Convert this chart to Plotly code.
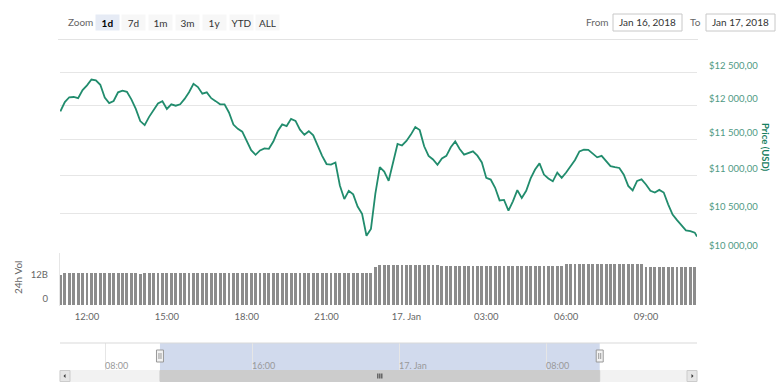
import math
import pandas as pd
import plotly.graph_objects as go

W, H = 780, 387

# ---------------- data ----------------
price_times = list(pd.date_range("2018-01-16 11:00", periods=144, freq="10min")) + [pd.Timestamp("2018-01-17 10:55")]
price_usd = [
    11910, 12048, 12120, 12124, 12106, 12229, 12300, 12389, 12376, 12308,
    12117, 12033, 12064, 12194, 12220, 12202, 12089, 11946, 11768, 11709,
    11830, 11938, 12027, 12061, 11946, 12015, 11994, 12015, 12095, 12195,
    12323, 12273, 12174, 12194, 12106, 12062, 12015, 12015, 11894, 11718,
    11656, 11615, 11485, 11351, 11287, 11348, 11378, 11371, 11474, 11624,
    11720, 11696, 11801, 11770, 11644, 11570, 11622, 11563, 11415, 11273,
    11159, 11151, 11180, 10868, 10686, 10796, 10748, 10587, 10493, 10212,
    10298, 10759, 11116, 11055, 10930, 11205, 11439, 11418, 11483, 11573,
    11683, 11637, 11407, 11272, 11222, 11148, 11236, 11272, 11393, 11476,
    11368, 11289, 11318, 11336, 11275, 11182, 10969, 10947, 10836, 10668,
    10674, 10535, 10656, 10805, 10701, 10796, 10962, 11084, 11168, 11015,
    10961, 10923, 11041, 10969, 11042, 11127, 11215, 11335, 11358, 11357,
    11308, 11252, 11273, 11194, 11130, 11116, 11105, 11013, 10861, 10800,
    10929, 10949, 10881, 10797, 10773, 10808, 10773, 10616, 10484, 10411,
    10341, 10279, 10270, 10251, 10203,
]

vol_times = pd.date_range("2018-01-16 11:00", periods=144, freq="10min")
vol_bn = [
    15.0, 16.0, 16.0, 16.0, 16.0, 16.25, 16.25, 16.25, 16.25, 16.25,
    16.25, 16.25, 16.25, 16.25, 16.25, 16.25, 16.25, 16.25, 15.5, 16.0,
    16.0, 16.0, 16.0, 16.0, 16.0, 16.0, 16.0, 16.0, 16.0, 16.0,
    16.1, 16.1, 16.1, 16.1, 16.1, 16.1, 16.1, 16.1, 16.1, 16.1,
    16.1, 16.1, 16.1, 16.1, 16.1, 16.1, 16.1, 16.1, 16.1, 16.1,
    16.1, 16.1, 16.1, 16.1, 16.1, 16.1, 16.1, 16.1, 16.1, 16.1,
    16.1, 16.1, 16.1, 16.1, 16.1, 16.1, 16.1, 16.1, 16.1, 16.1,
    16.1, 19.0, 20.0, 20.0, 20.0, 20.0, 20.0, 20.0, 20.0, 20.0,
    20.0, 20.0, 20.0, 20.0, 20.0, 20.0, 19.75, 19.75, 19.75, 19.75,
    19.75, 19.75, 19.75, 19.75, 19.75, 19.75, 19.75, 19.75, 19.75, 19.75,
    19.75, 19.5, 19.5, 19.5, 19.5, 19.5, 19.5, 19.5, 19.5, 19.5,
    19.5, 19.5, 19.5, 19.5, 20.5, 20.5, 20.5, 20.5, 20.5, 20.5,
    20.5, 20.5, 20.5, 20.5, 20.5, 20.5, 20.5, 20.5, 20.5, 20.5,
    20.5, 20.5, 19.0, 19.0, 19.0, 19.0, 19.0, 19.0, 19.0, 19.0,
    19.0, 19.0, 19.0, 19.0,
]

price_ticks = [10000, 10500, 11000, 11500, 12000, 12500]
price_tick_text = ["$10 000,00", "$10 500,00", "$11 000,00", "$11 500,00", "$12 000,00", "$12 500,00"]
vol_ticks = [0, 12]
vol_tick_text = ["0", "12B"]
time_ticks = ["2018-01-16 12:00", "2018-01-16 15:00", "2018-01-16 18:00", "2018-01-16 21:00",
              "2018-01-17 00:00", "2018-01-17 03:00", "2018-01-17 06:00", "2018-01-17 09:00"]
time_tick_text = ["12:00", "15:00", "18:00", "21:00", "17. Jan", "03:00", "06:00", "09:00"]
nav_ticks = ["2018-01-16 08:00", "2018-01-16 16:00", "2018-01-17 00:00", "2018-01-17 08:00"]
nav_tick_text = ["08:00", "16:00", "17. Jan", "08:00"]
zoom_buttons = ["1d", "7d", "1m", "3m", "1y", "YTD", "ALL"]
selected_button = "1d"
from_date, to_date = "Jan 16, 2018", "Jan 17, 2018"
view_start, view_end = "2018-01-16 10:59:08", "2018-01-17 10:55:00"
nav_start, nav_end = "2018-01-16 05:32:40", "2018-01-17 16:12:40"

# ---------------- style ----------------
GREEN = "#218c6d"
TICK_GREEN = "#4f9a84"
FONT = "Lato"


def px(x):
    return x / W


def py(y):
    return 1 - y / H


X0, X1 = px(60), px(697)
price_lo = 10 ** (4 - 0.3 / 1861.5)
price_hi = 10 ** (4 + 197.7 / 1861.5)

fig = go.Figure()
fig.add_trace(go.Scatter(x=price_times, y=price_usd, mode="lines",
                         line=dict(color=GREEN, width=1.8), xaxis="x", yaxis="y",
                         hoverinfo="skip"))
fig.add_trace(go.Bar(x=vol_times, y=vol_bn, marker=dict(color="#8c8c8c", line=dict(width=0)),
                     width=6.5 * 60 * 1000, xaxis="x2", yaxis="y2", hoverinfo="skip"))
fig.add_trace(go.Scatter(x=[], y=[], xaxis="x3", yaxis="y3", mode="lines", hoverinfo="skip"))

fig.update_layout(
    width=W, height=H, autosize=False,
    margin=dict(l=0, r=0, t=0, b=0, pad=0),
    paper_bgcolor="white", plot_bgcolor="white",
    showlegend=False, bargap=0,
    font=dict(family=FONT, size=10, color="#666666"),
    xaxis=dict(domain=[X0, X1], anchor="y", type="date", range=[view_start, view_end],
               showticklabels=False, showgrid=False, zeroline=False, showline=False,
               ticks="", fixedrange=True),
    yaxis=dict(domain=[py(253), py(55)], anchor="x", type="log",
               range=[math.log10(price_lo), math.log10(price_hi)],
               side="right", tickvals=price_ticks, ticktext=price_tick_text,
               tickfont=dict(size=9.5, color=TICK_GREEN, family=FONT),
               gridcolor="#e6e6e6", gridwidth=1, showline=False, zeroline=False,
               ticks="", ticklabelstandoff=11, ticklabelposition="outside top",
               fixedrange=True),
    xaxis2=dict(domain=[X0, X1], anchor="y2", type="date", range=[view_start, view_end],
                tickvals=time_ticks, ticktext=time_tick_text,
                tickfont=dict(size=9.5, color="#666666", family=FONT),
                showgrid=False, zeroline=False, showline=False, ticks="",
                ticklabelstandoff=4, fixedrange=True),
    yaxis2=dict(domain=[py(305), py(253)], anchor="x2", range=[0, 26],
                side="left", tickvals=vol_ticks, ticktext=vol_tick_text,
                tickfont=dict(size=9.5, color="#666666", family=FONT),
                showgrid=False, zeroline=False, showline=False, ticks="",
                ticklabelstandoff=11, ticklabelposition="outside top",
                fixedrange=True),
    xaxis3=dict(domain=[X0, X1], anchor="y3", type="date", range=[nav_start, nav_end],
                tickvals=nav_ticks, ticktext=nav_tick_text,
                ticklabelposition="inside right",
                tickfont=dict(size=9, color="#999999", family=FONT),
                showgrid=True, gridcolor="#e6e6e6", zeroline=False, showline=False,
                ticks="", fixedrange=True),
    yaxis3=dict(domain=[py(377), py(343)], anchor="x3", range=[0, 1], visible=False,
                fixedrange=True),
)

# navigator pixel mapping (for the scrollbar grip)
ns, ne = pd.Timestamp(nav_start), pd.Timestamp(nav_end)
vs, ve = pd.Timestamp(view_start), pd.Timestamp(view_end)


def nav_px(t):
    return 60 + (t - ns) / (ne - ns) * 637


shapes = []
# separator under the range selector
shapes.append(dict(type="line", xref="paper", yref="paper", x0=px(58), x1=px(698),
                   y0=py(39.5), y1=py(39.5), line=dict(color="#e3e3e3", width=1)))
# volume panel left edge
shapes.append(dict(type="line", xref="paper", yref="paper", x0=px(59.5), x1=px(59.5),
                   y0=py(253), y1=py(306), line=dict(color="#e6e6e6", width=1)))
# navigator outline top
shapes.append(dict(type="line", xref="paper", yref="paper", x0=X0, x1=X1,
                   y0=py(343), y1=py(343), line=dict(color="#d9d9d9", width=1)))
# navigator selection mask
shapes.append(dict(type="rect", xref="x3", yref="paper", x0=view_start, x1=view_end,
                   y0=py(370), y1=py(343),
                   fillcolor="rgba(102,133,194,0.3)", line=dict(width=0), layer="below"))
# scrollbar track, thumb and buttons
shapes.append(dict(type="rect", xref="paper", yref="paper", x0=X0, x1=X1, y0=py(381.5), y1=py(370.5),
                   fillcolor="#f2f2f2", line=dict(color="#f2f2f2", width=1)))
shapes.append(dict(type="rect", xref="x3", yref="paper", x0=view_start, x1=view_end,
                   y0=py(381.5), y1=py(370.5), fillcolor="#cccccc", line=dict(color="#cccccc", width=1)))
grip_x = nav_px(vs + (ve - vs) / 2)
for off in (-2, 0, 2):
    shapes.append(dict(type="line", xref="paper", yref="paper", x0=px(grip_x + off), x1=px(grip_x + off),
                       y0=py(378.5), y1=py(373.5), line=dict(color="#333333", width=1)))
for bx in (60, 687):
    shapes.append(dict(type="rect", xref="paper", yref="paper", x0=px(bx), x1=px(bx + 10),
                       y0=py(381.5), y1=py(370.5), fillcolor="#e6e6e6", line=dict(color="#cccccc", width=1)))
shapes.append(dict(type="path", xref="paper", yref="paper",
                   path=f"M {px(63.5)} {py(376)} L {px(65.5)} {py(374)} L {px(65.5)} {py(378)} Z",
                   fillcolor="#333333", line=dict(width=0)))
shapes.append(dict(type="path", xref="paper", yref="paper",
                   path=f"M {px(693.5)} {py(376)} L {px(691.5)} {py(374)} L {px(691.5)} {py(378)} Z",
                   fillcolor="#333333", line=dict(width=0)))
# navigator handles
for anchor in (view_start, view_end):
    shapes.append(dict(type="rect", xref="x3", yref="paper", xsizemode="pixel", xanchor=anchor,
                       x0=-3.5, x1=3.5, y0=py(362), y1=py(350),
                       fillcolor="#f2f2f2", line=dict(color="#999999", width=1)))
    for off in (-1, 1):
        shapes.append(dict(type="line", xref="x3", yref="paper", xsizemode="pixel", xanchor=anchor,
                           x0=off, x1=off, y0=py(359), y1=py(353),
                           line=dict(color="#999999", width=1)))
# date input boxes
for bx0, bx1 in ((613, 682), (706, 775)):
    shapes.append(dict(type="rect", xref="paper", yref="paper", x0=px(bx0), x1=px(bx1),
                       y0=py(31), y1=py(14), fillcolor="rgba(0,0,0,0)",
                       line=dict(color="#c8c8c8", width=1)))
fig.update_layout(shapes=shapes)


def note(text, x, y, size=10, color="#666666", **kw):
    d = dict(text=text, x=x, y=y, xref="paper", yref="paper", showarrow=False,
             xanchor="center", yanchor="middle",
             font=dict(size=size, color=color, family=FONT))
    d.update(kw)
    return d


ann = [note("Zoom", px(80), py(22.5))]
for i, lab in enumerate(zoom_buttons):
    sel = lab == selected_button
    ann.append(note(f"<b>{lab}</b>" if sel else lab, px(107 + 26.8 * i), py(22.5),
                    color="#000000" if sel else "#333333",
                    width=23, height=15, borderpad=0,
                    bgcolor="#e6ebf5" if sel else "#f7f7f7"))
ann.append(note("From", px(597), py(22.5)))
ann.append(note(from_date, px(647.5), py(22.5), color="#333333"))
ann.append(note("To", px(695), py(22.5)))
ann.append(note(to_date, px(740.5), py(22.5), color="#333333"))
ann.append(note("<b>Price (USD)</b>", px(766), py(147), size=9.5, color="#17805f", textangle=90))
ann.append(note("24h Vol", px(18), py(278), textangle=-90))
fig.update_layout(annotations=ann)

fig.write_html("out.html", config={"displayModeBar": False},
               post_script="document.body.style.margin='0';")
